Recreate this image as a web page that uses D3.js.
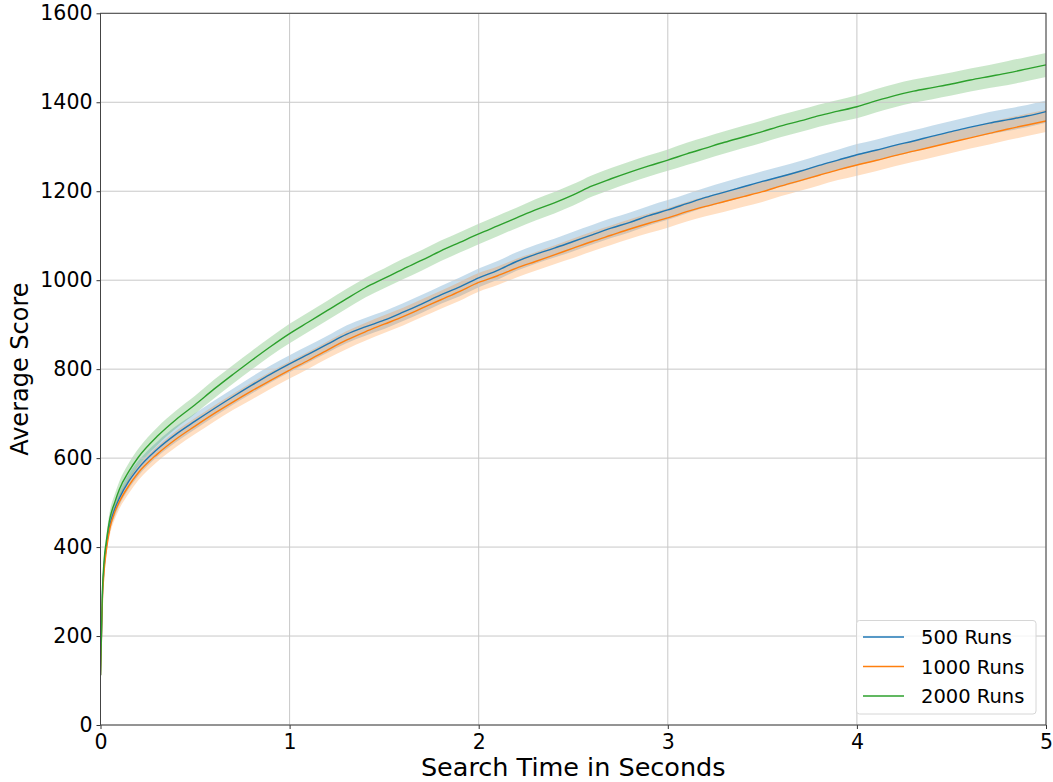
<!DOCTYPE html>
<html>
<head>
<meta charset="utf-8">
<script src="https://cdn.jsdelivr.net/npm/d3@7"></script>
<style>
  html, body { margin: 0; padding: 0; background: #fff; }
  svg { display: block; font-family: "DejaVu Sans", sans-serif; }
</style>
</head>
<body>
<svg id="chart" width="1053" height="782"></svg>
<script>
// ---- data ----
const seriesNames = ["500 Runs", "1000 Runs", "2000 Runs"];
const seriesColors = ["#1f77b4", "#ff7f0e", "#2ca02c"];
const xTicks = [0, 1, 2, 3, 4, 5];
const yTicks = [0, 200, 400, 600, 800, 1000, 1200, 1400, 1600];

const time = [0, 0.01, 0.02, 0.03, 0.05, 0.075, 0.1, 0.15, 0.2,
  0.3, 0.4, 0.5, 0.6, 0.7, 0.8, 0.9, 1.0,
  1.1, 1.2, 1.3, 1.4, 1.5, 1.6, 1.7, 1.8, 1.9, 2.0,
  2.1, 2.2, 2.3, 2.4, 2.5, 2.6, 2.7, 2.8, 2.9, 3.0,
  3.1, 3.2, 3.3, 3.4, 3.5, 3.6, 3.7, 3.8, 3.9, 4.0,
  4.1, 4.2, 4.3, 4.4, 4.5, 4.6, 4.7, 4.8, 4.9, 5.0];

const runs500 = [112, 290, 360, 400, 450, 485, 510, 548, 577,
  620, 654, 683, 711, 738, 764, 789, 812,
  834, 856, 878, 895, 910, 928, 947, 967, 985, 1005,
  1022, 1042, 1058, 1072, 1087, 1102, 1117, 1130, 1145, 1158,
  1172, 1186, 1198, 1210, 1222, 1233, 1245, 1258, 1270, 1282,
  1292, 1303, 1313, 1324, 1334, 1344, 1353, 1361, 1369, 1379];

const runs1000 = [112, 280, 350, 390, 443, 478, 502, 538, 567,
  609, 643, 672, 700, 726, 751, 775, 798,
  820, 843, 865, 884, 901, 918, 937, 956, 975, 995,
  1010, 1027, 1042, 1057, 1072, 1087, 1101, 1115, 1128, 1140,
  1154, 1166, 1177, 1188, 1199, 1212, 1224, 1236, 1248, 1259,
  1269, 1280, 1290, 1300, 1310, 1320, 1330, 1340, 1349, 1358];

const runs2000 = [112, 300, 375, 410, 465, 500, 530, 570, 602,
  649, 687, 720, 755, 788, 820, 851, 880,
  906, 932, 958, 983, 1004, 1025, 1045, 1066, 1085, 1104,
  1122, 1140, 1158, 1174, 1192, 1212, 1228, 1243, 1257, 1270,
  1284, 1297, 1310, 1322, 1334, 1347, 1358, 1370, 1380, 1390,
  1403, 1415, 1425, 1433, 1441, 1450, 1458, 1466, 1475, 1484];

// half-width of the shaded confidence band
const ci500 = [0, 8, 12, 14, 15, 16, 16, 17, 17,
  17, 18, 18, 18, 18, 19, 19, 19,
  19, 19, 20, 20, 20, 20, 20, 20, 21, 21,
  21, 21, 21, 21, 22, 22, 22, 22, 22, 22,
  22, 22, 23, 23, 23, 23, 23, 23, 23, 24,
  24, 24, 24, 24, 24, 24, 25, 25, 25, 25];
const ci1000 = [0, 8, 12, 14, 15, 16, 16, 17, 17,
  17, 18, 18, 18, 18, 19, 19, 19,
  19, 19, 20, 20, 20, 20, 20, 20, 21, 21,
  21, 21, 21, 21, 22, 22, 22, 22, 22, 22,
  22, 22, 23, 23, 23, 23, 23, 23, 23, 24,
  24, 24, 24, 24, 24, 24, 25, 25, 25, 25];
const ci2000 = [0, 9, 13, 15, 17, 18, 18, 19, 19,
  20, 20, 20, 21, 21, 21, 21, 22,
  22, 22, 22, 22, 22, 23, 23, 23, 23, 23,
  23, 23, 24, 24, 24, 24, 24, 24, 24, 24,
  25, 25, 25, 25, 25, 25, 25, 25, 25, 26,
  26, 26, 26, 26, 26, 26, 26, 27, 27, 27];

const seriesValues = [runs500, runs1000, runs2000];
const seriesCI = [ci500, ci1000, ci2000];

// ---- layout ----
const svg = d3.select("#chart");
const L = 100.5, R = 1046, T = 13.3, B = 725;

const x = d3.scaleLinear().domain([0, 5]).range([L, R]);
const y = d3.scaleLinear().domain([0, 1600]).range([B, T]);

const series = seriesNames.map((name, i) => ({
  name, color: seriesColors[i],
  points: time.map((t, j) => ({ t, v: seriesValues[i][j], c: seriesCI[i][j] }))
}));

svg.append("clipPath").attr("id", "plotclip")
  .append("rect").attr("x", L).attr("y", T).attr("width", R - L).attr("height", B - T);

const plot = svg.append("g").attr("clip-path", "url(#plotclip)");

// bands
const area = d3.area()
  .x(d => x(d.t))
  .y0(d => y(d.v - d.c))
  .y1(d => y(d.v + d.c))
  .curve(d3.curveMonotoneX);

plot.selectAll("path.band").data(series).join("path")
  .attr("class", "band")
  .attr("d", d => area(d.points))
  .attr("fill", d => d.color)
  .attr("fill-opacity", 0.25)
  .attr("stroke", "none");

// grid
const grid = svg.append("g");
grid.selectAll("line.gx").data(xTicks).join("line")
  .attr("x1", d => x(d)).attr("x2", d => x(d))
  .attr("y1", T).attr("y2", B)
  .attr("stroke", "#c8c8c8").attr("stroke-width", 1);
grid.selectAll("line.gy").data(yTicks).join("line")
  .attr("x1", L).attr("x2", R)
  .attr("y1", d => y(d)).attr("y2", d => y(d))
  .attr("stroke", "#c8c8c8").attr("stroke-width", 1);

// lines
const line = d3.line()
  .x(d => x(d.t))
  .y(d => y(d.v))
  .curve(d3.curveMonotoneX);

const svgPlotLines = svg.append("g").attr("clip-path", "url(#plotclip)");
svgPlotLines.selectAll("path.line").data(series).join("path")
  .attr("class", "line")
  .attr("d", d => line(d.points))
  .attr("fill", "none")
  .attr("stroke", d => d.color)
  .attr("stroke-width", 1.4);

// axes
const xAxis = d3.axisBottom(x).tickValues(xTicks).tickFormat(d3.format("d")).tickSize(4).tickPadding(5);
const yAxis = d3.axisLeft(y).tickValues(yTicks).tickFormat(d3.format("d")).tickSize(4).tickPadding(4);

const gx = svg.append("g").attr("transform", `translate(0,${B})`).call(xAxis);
const gy = svg.append("g").attr("transform", `translate(${L},0)`).call(yAxis);
[gx, gy].forEach(g => {
  g.select(".domain").remove();
  g.selectAll(".tick line").attr("stroke", "#333").attr("stroke-width", 1);
  g.selectAll(".tick text").attr("fill", "#000")
    .style("font-family", "'DejaVu Sans', sans-serif").style("font-size", "20.5px");
});

// spines
svg.append("rect")
  .attr("x", L).attr("y", T).attr("width", R - L).attr("height", B - T)
  .attr("fill", "none").attr("stroke", "#444").attr("stroke-width", 1);

// axis labels
svg.append("text")
  .attr("x", (L + R) / 2).attr("y", 775.5)
  .attr("text-anchor", "middle")
  .style("font-size", "25.5px").attr("fill", "#000")
  .text("Search Time in Seconds");

svg.append("text")
  .attr("transform", `translate(27.5,${(T + B) / 2}) rotate(-90)`)
  .attr("text-anchor", "middle")
  .style("font-size", "24px").attr("fill", "#000")
  .text("Average Score");

// legend
const leg = svg.append("g");
leg.append("rect")
  .attr("x", 856.5).attr("y", 620.5).attr("width", 179.5).attr("height", 93.5)
  .attr("rx", 3).attr("ry", 3)
  .attr("fill", "#fff").attr("fill-opacity", 0.8)
  .attr("stroke", "#d6d6d6").attr("stroke-width", 1);

const items = leg.selectAll("g.item").data(series).join("g")
  .attr("class", "item")
  .attr("transform", (d, i) => `translate(0,${637 + i * 29.5})`);
items.append("line")
  .attr("x1", 863).attr("x2", 904).attr("y1", 0).attr("y2", 0)
  .attr("stroke", d => d.color).attr("stroke-width", 1.4);
items.append("text")
  .attr("x", 921).attr("y", 7)
  .style("font-size", "19.5px").attr("fill", "#000")
  .text(d => d.name);
</script>
</body>
</html>
